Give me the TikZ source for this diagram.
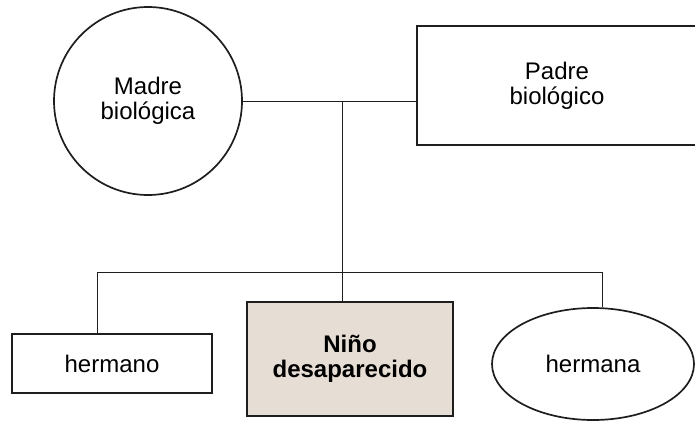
\documentclass[tikz,border=0pt]{standalone}
\usepackage{fontspec}
\setmainfont{Liberation Sans}
\usetikzlibrary{shapes.geometric}
\begin{document}
\begin{tikzpicture}[x=1pt, y=-1pt,
  person/.style={draw=lineND, line width=1.7pt, align=center, inner sep=0pt,
    font=\fontsize{24}{25}\selectfont},
  link/.style={draw=lineND, line width=1pt}]

\definecolor{lineND}{HTML}{1e1e1e}
\definecolor{beigeND}{HTML}{e6ddd4}

\useasboundingbox (0,0) rectangle (695,421);

\node[person, circle, minimum size=188pt] (madre) at (148,101) {Madre\\biológica};
\node[person, rectangle, minimum width=280pt, minimum height=119pt] (padre) at (557,85.5) {Padre\\biológico};

\node[person, rectangle, minimum width=200pt, minimum height=59pt] (hermano) at (112,363.5) {hermano};
\node[person, rectangle, fill=beigeND, minimum width=206pt, minimum height=114pt,
  font=\fontsize{24}{25}\selectfont\bfseries] (nino) at (350,359) {Niño\\desaparecido};
\node[person, ellipse, minimum width=202pt, minimum height=112pt] (hermana) at (593,364) {hermana};

\coordinate (union) at (342,101);
\coordinate (barL) at (97,272);
\coordinate (barR) at (602,272);

\draw[link] (madre.east) -- (madre.east -| padre.west);
\draw[link] (union) -- (union |- nino.north);
\draw[link] (barL |- hermano.north) -- (barL) -- (barR) -- (barR |- hermana.north);
\end{tikzpicture}
\end{document}
